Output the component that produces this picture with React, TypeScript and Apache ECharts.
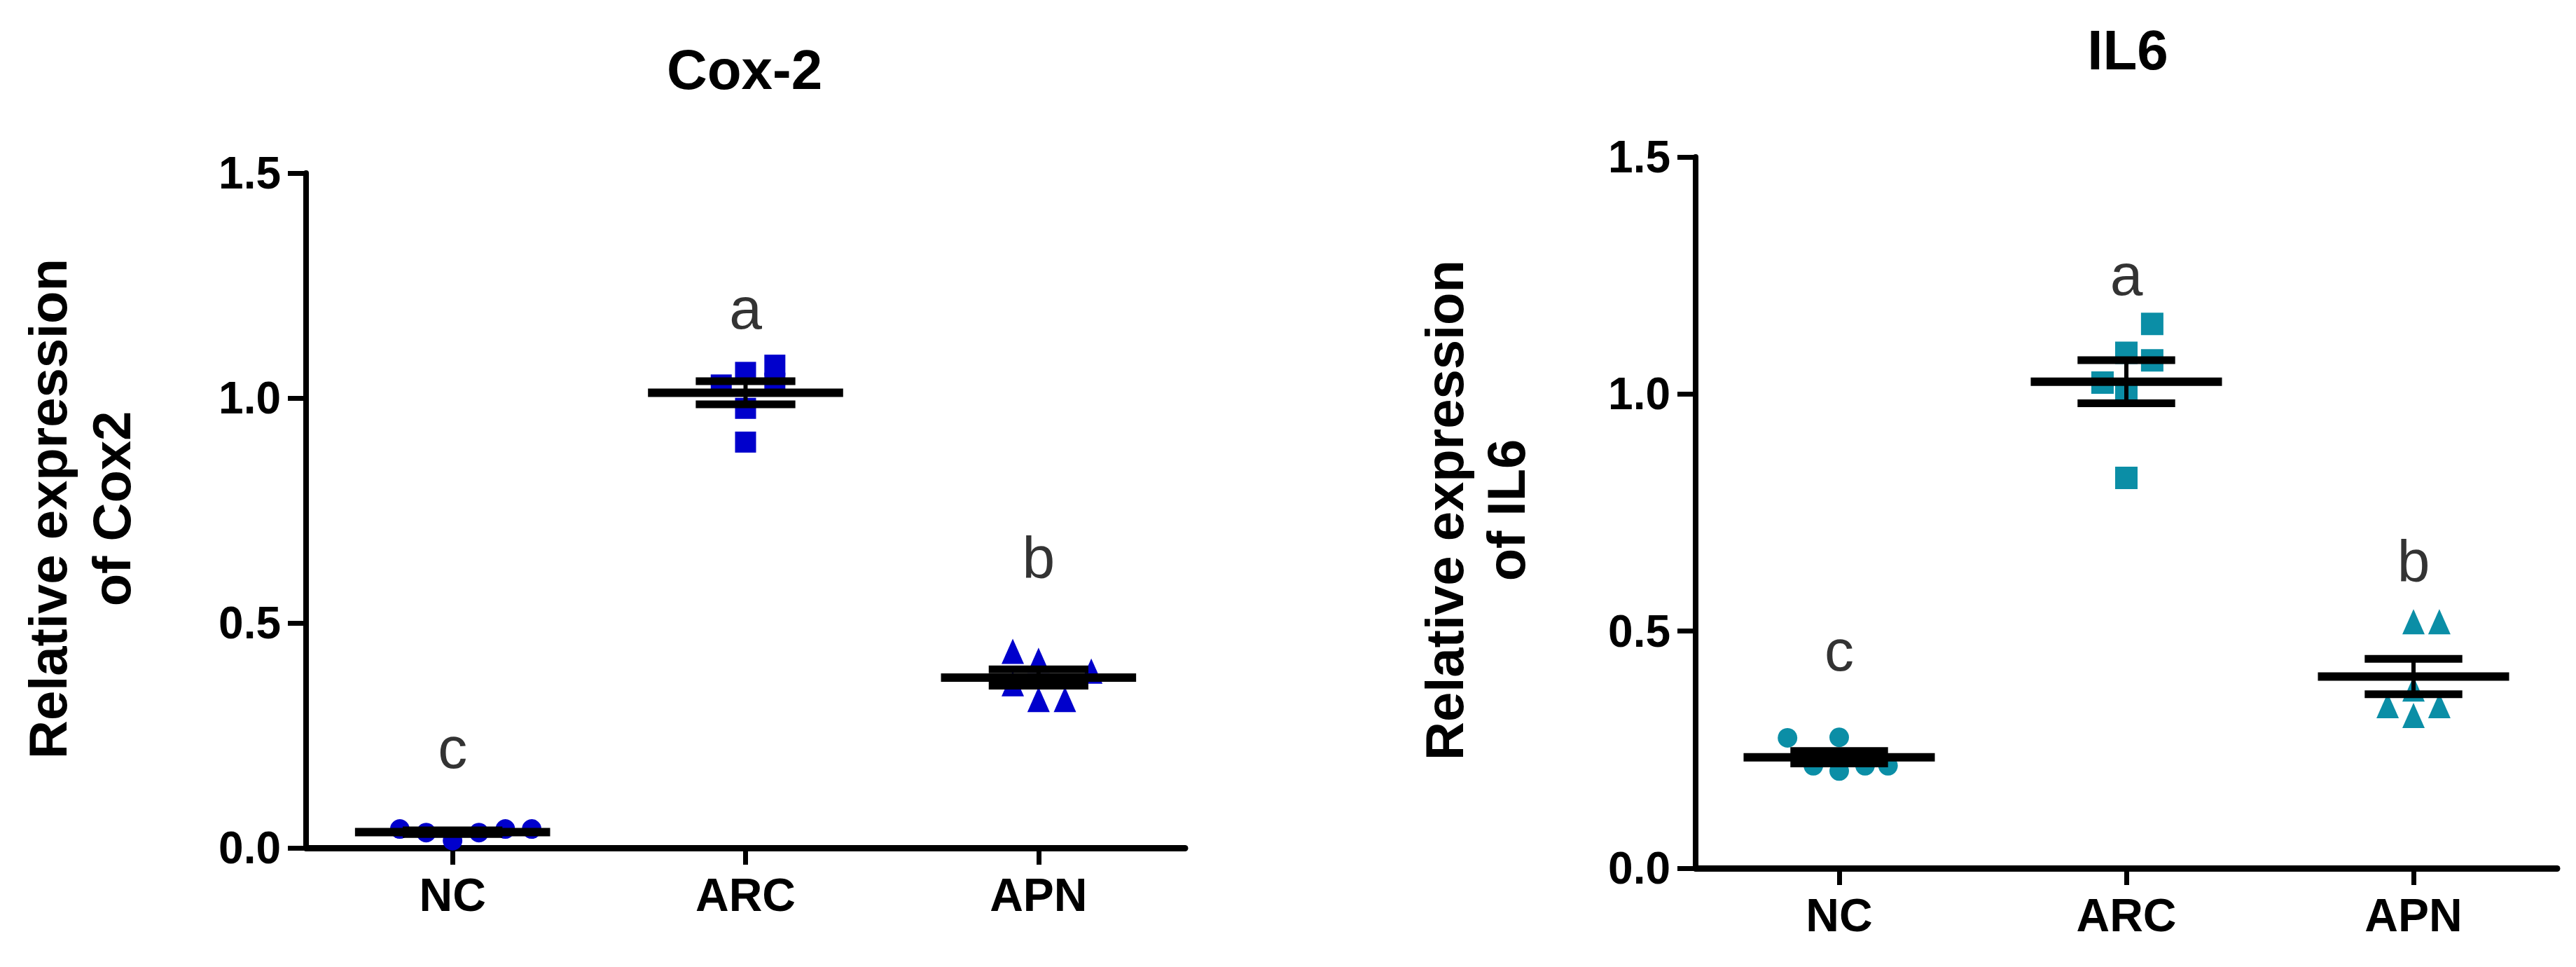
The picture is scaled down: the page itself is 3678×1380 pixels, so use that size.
import React, { useEffect, useRef } from 'react';
import * as echarts from 'echarts';

// ---- data ----
const groups = ['NC', 'ARC', 'APN'];
const yTickValues = [0, 0.5, 1.0, 1.5];

// Cox-2 (left panel)
const cox2NC = [0.042, 0.034, 0.016, 0.034, 0.042, 0.042];
const cox2NCJitter = [-0.18, -0.09, 0, 0.09, 0.18, 0.27];
const cox2ARC = [1.029, 1.057, 0.977, 0.902, 1.073, 1.033];
const cox2ARCJitter = [-0.083, 0, 0, 0, 0.1, 0.1];
const cox2APN = [0.437, 0.365, 0.417, 0.33, 0.33, 0.393];
const cox2APNJitter = [-0.088, -0.088, 0, 0, 0.09, 0.18];
const cox2Letters = ['c', 'a', 'b'];
const cox2LetterY = [0.223, 1.2, 0.645];

// IL6 (right panel)
const il6NC = [0.275, 0.216, 0.276, 0.205, 0.216, 0.216];
const il6NCJitter = [-0.18, -0.09, 0, 0, 0.09, 0.17];
const il6ARC = [1.148, 1.087, 1.071, 1.024, 1.003, 0.823];
const il6ARCJitter = [0.09, 0, 0.09, -0.083, 0, 0];
const il6APN = [0.52, 0.52, 0.378, 0.343, 0.343, 0.322];
const il6APNJitter = [0, 0.09, 0, -0.09, 0.09, 0];
const il6Letters = ['c', 'a', 'b'];
const il6LetterY = [0.459, 1.251, 0.647];

const FONT = "'Liberation Sans', Arial, sans-serif";
const COX_COLOR = '#0000cc';
const IL6_COLOR = '#0b8ea6';

function meanSem(arr: number[]) {
  const n = arr.length;
  const m = arr.reduce((a, b) => a + b, 0) / n;
  const sd = Math.sqrt(arr.reduce((a, b) => a + (b - m) * (b - m), 0) / (n - 1));
  return [m, sd / Math.sqrt(n)];
}

const MEAN_HALF = 0.333;
const CAP_HALF = 0.17;

function summarySeries(xAxisIndex: number, yAxisIndex: number, sets: number[][]) {
  return {
    type: 'custom',
    xAxisIndex,
    yAxisIndex,
    z: 5,
    data: sets.map((s, i) => {
      const [m, se] = meanSem(s);
      return [i, m, se];
    }),
    renderItem: (params: any, api: any) => {
      const x = api.value(0);
      const m = api.value(1);
      const s = api.value(2);
      const c = api.coord([x, m]);
      const hw = api.size([MEAN_HALF, 0])[0];
      const cw = api.size([CAP_HALF, 0])[0];
      const top = api.coord([x, m + s])[1];
      const bot = api.coord([x, m - s])[1];
      return {
        type: 'group',
        children: [
          { type: 'line', shape: { x1: c[0], y1: top, x2: c[0], y2: bot }, style: { stroke: '#000', lineWidth: 6 } },
          { type: 'line', shape: { x1: c[0] - cw, y1: top, x2: c[0] + cw, y2: top }, style: { stroke: '#000', lineWidth: 11 } },
          { type: 'line', shape: { x1: c[0] - cw, y1: bot, x2: c[0] + cw, y2: bot }, style: { stroke: '#000', lineWidth: 11 } },
          { type: 'line', shape: { x1: c[0] - hw, y1: c[1], x2: c[0] + hw, y2: c[1] }, style: { stroke: '#000', lineWidth: 12 } },
        ],
      };
    },
  };
}

function pointSeries(xAxisIndex: number, yAxisIndex: number, idx: number, vals: number[], jit: number[], symbol: string, size: any, color: string) {
  return {
    type: 'scatter',
    xAxisIndex,
    yAxisIndex,
    z: 3,
    symbol,
    symbolSize: size,
    itemStyle: { color, opacity: 1 },
    data: vals.map((v, i) => [idx + jit[i], v]),
  };
}

function letterSeries(xAxisIndex: number, yAxisIndex: number, letters: string[], ys: number[]) {
  return {
    type: 'scatter',
    xAxisIndex,
    yAxisIndex,
    symbolSize: 1,
    itemStyle: { color: 'rgba(0,0,0,0)' },
    label: {
      show: true,
      position: 'inside',
      formatter: (p: any) => p.value[2],
      color: '#000',
      fontSize: 84,
      fontFamily: FONT,
    },
    data: letters.map((l, i) => [i, ys[i], l]),
  };
}

function catAxis(gridIndex: number) {
  return {
    gridIndex,
    type: 'category',
    data: groups,
    boundaryGap: true,
    axisLine: { show: true, onZero: false, lineStyle: { color: '#000', width: 9 } },
    axisTick: { show: true, alignWithLabel: true, length: 24, lineStyle: { color: '#000', width: 7 } },
    axisLabel: { color: '#000', fontSize: 66, fontWeight: 'bold', fontFamily: FONT, margin: 34 },
    splitLine: { show: false },
  };
}

function valXAxis(gridIndex: number) {
  return { gridIndex, type: 'value', min: -0.5, max: 2.5, show: false, splitLine: { show: false } };
}

function yAxis(gridIndex: number) {
  return {
    gridIndex,
    type: 'value',
    min: yTickValues[0],
    max: yTickValues[yTickValues.length - 1],
    interval: yTickValues[1] - yTickValues[0],
    axisLine: { show: true, onZero: false, lineStyle: { color: '#000', width: 8 } },
    axisTick: { show: true, length: 26, lineStyle: { color: '#000', width: 7 } },
    axisLabel: {
      color: '#000',
      fontSize: 64,
      fontWeight: 'bold',
      fontFamily: FONT,
      margin: 36,
      formatter: (v: number) => v.toFixed(1),
    },
    splitLine: { show: false },
  };
}

function textEl(text: string, x: number, y: number, size: number, rotation = 0, weight = 'bold') {
  return {
    type: 'text',
    x,
    y,
    rotation,
    style: {
      text,
      fill: '#000',
      font: `${weight} ${size}px ${FONT}`,
      textAlign: 'center',
      textVerticalAlign: 'middle',
    },
  };
}

export default function App() {
  const ref = useRef<HTMLDivElement>(null);
  useEffect(() => {
    document.body.style.margin = '0';
    if (!ref.current) return;
    const chart = echarts.init(ref.current, null, { renderer: 'svg' });
    const option: any = {
      animation: false,
      backgroundColor: '#fff',
      grid: [
        { left: 437, top: 247, width: 1255, height: 963 },
        { left: 2421, top: 224, width: 1230, height: 1015 },
      ],
      xAxis: [catAxis(0), valXAxis(0), catAxis(1), valXAxis(1)],
      yAxis: [yAxis(0), yAxis(1)],
      graphic: [
        textEl('Cox-2', 1063, 99, 80),
        textEl('IL6', 3038, 71, 80),
        textEl('Relative expression', 68, 726, 76, Math.PI / 2),
        textEl('of Cox2', 159, 726, 76, Math.PI / 2),
        textEl('Relative expression', 2062, 728, 76, Math.PI / 2),
        textEl('of IL6', 2150, 728, 76, Math.PI / 2),
      ],
      series: [
        pointSeries(1, 0, 0, cox2NC, cox2NCJitter, 'circle', 28, COX_COLOR),
        pointSeries(1, 0, 1, cox2ARC, cox2ARCJitter, 'rect', 30, COX_COLOR),
        pointSeries(1, 0, 2, cox2APN, cox2APNJitter, 'triangle', [32, 36], COX_COLOR),
        summarySeries(1, 0, [cox2NC, cox2ARC, cox2APN]),
        letterSeries(1, 0, cox2Letters, cox2LetterY),
        pointSeries(3, 1, 0, il6NC, il6NCJitter, 'circle', 28, IL6_COLOR),
        pointSeries(3, 1, 1, il6ARC, il6ARCJitter, 'rect', 32, IL6_COLOR),
        pointSeries(3, 1, 2, il6APN, il6APNJitter, 'triangle', [32, 36], IL6_COLOR),
        summarySeries(3, 1, [il6NC, il6ARC, il6APN]),
        letterSeries(3, 1, il6Letters, il6LetterY),
      ],
    };
    chart.setOption(option);
    return () => chart.dispose();
  }, []);
  return <div ref={ref} style={{ width: 3678, height: 1380 }} />;
}
